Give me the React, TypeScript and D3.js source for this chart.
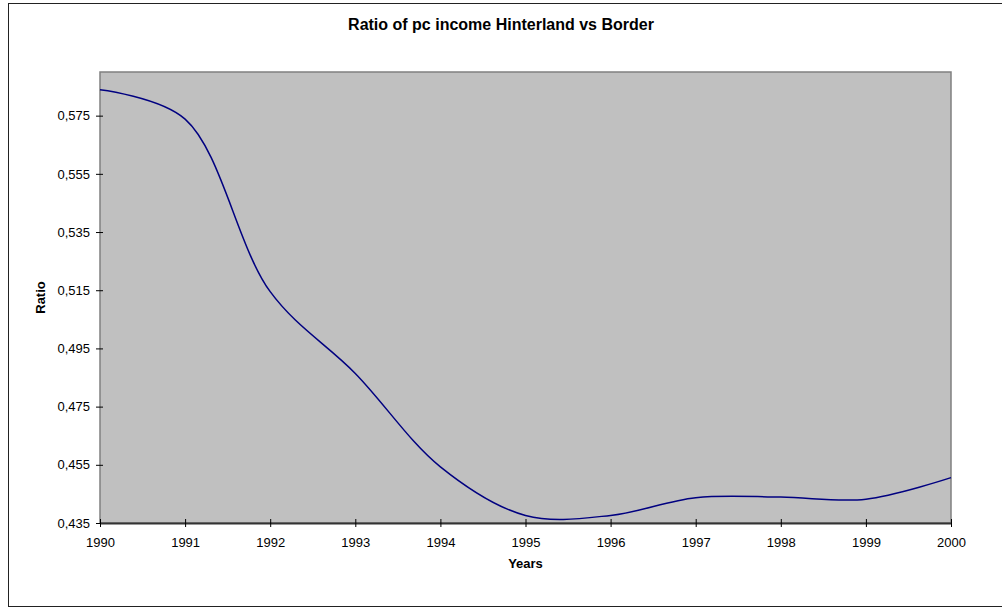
import React, { useRef, useEffect } from 'react';
import * as d3 from 'd3';

const years = [1990, 1991, 1992, 1993, 1994, 1995, 1996, 1997, 1998, 1999, 2000];
const ratio = [0.5839, 0.5738, 0.5145, 0.4864, 0.4543, 0.4376, 0.4376, 0.4437, 0.4439, 0.4432, 0.4506];
const yTicks = [0.435, 0.455, 0.475, 0.495, 0.515, 0.535, 0.555, 0.575];

const W = 1002;
const H = 608;
const margin = { top: 72, right: 51, bottom: 85, left: 100 };

function App() {
  const svgRef = useRef<SVGSVGElement>(null);

  useEffect(() => {
    const svgEl = d3.select(svgRef.current);
    svgEl.selectAll('*').remove();

    const width = W - margin.left - margin.right;
    const height = H - margin.top - margin.bottom;
    const font = 'Arial, "Liberation Sans", sans-serif';

    // chart frame
    svgEl.append('rect')
      .attr('x', 8.5).attr('y', 3.5)
      .attr('width', 1010).attr('height', 603)
      .attr('fill', '#fff').attr('stroke', '#222');

    const xScale = d3.scaleLinear().domain([1990, 2000]).range([0, width]);
    const yScale = d3.scaleLinear().domain([0.435, 0.59]).range([height, 0]);

    const svg = svgEl.append('g').attr('transform', `translate(${margin.left},${margin.top})`);

    svg.append('rect')
      .attr('x', 0).attr('y', 0)
      .attr('width', width).attr('height', height)
      .attr('fill', '#c0c0c0').attr('stroke', '#808080').attr('stroke-width', 1.5);

    // y axis
    const yAxis = d3.axisLeft(yScale)
      .tickValues(yTicks)
      .tickSize(0)
      .tickPadding(10)
      .tickFormat((d) => d3.format('.3f')(d as number).replace('.', ','));
    const yg = svg.append('g').call(yAxis);
    yg.select('.domain').remove();
    yg.selectAll('text').attr('font-size', 13).attr('font-family', font).attr('fill', '#000');
    yg.selectAll('.tick').append('line')
      .attr('x1', -4).attr('x2', 3).attr('stroke', '#000');

    // x axis
    const xAxis = d3.axisBottom(xScale)
      .tickValues(years)
      .tickSize(0)
      .tickPadding(15)
      .tickFormat((d) => String(d));
    const xg = svg.append('g').attr('transform', `translate(0,${height})`).call(xAxis);
    xg.select('.domain').attr('stroke', '#333').attr('stroke-width', 2);
    xg.selectAll('text').attr('font-size', 13).attr('font-family', font).attr('fill', '#000');
    xg.selectAll('.tick').append('line')
      .attr('y1', -4).attr('y2', 4).attr('stroke', '#000');

    const line = d3.line<number>()
      .x((_, i) => xScale(years[i]))
      .y((d) => yScale(d))
      .curve(d3.curveCatmullRom.alpha(0.5));

    svg.append('path')
      .datum(ratio)
      .attr('fill', 'none')
      .attr('stroke', '#000080')
      .attr('stroke-width', 1.5)
      .attr('d', line);

    svgEl.append('text')
      .attr('x', 501).attr('y', 30)
      .attr('text-anchor', 'middle')
      .attr('font-family', font).attr('font-weight', 'bold').attr('font-size', 16)
      .text('Ratio of pc income Hinterland vs Border');

    svgEl.append('text')
      .attr('x', margin.left + width / 2).attr('y', 568)
      .attr('text-anchor', 'middle')
      .attr('font-family', font).attr('font-weight', 'bold').attr('font-size', 13)
      .text('Years');

    svgEl.append('text')
      .attr('transform', `translate(45,${margin.top + height / 2}) rotate(-90)`)
      .attr('text-anchor', 'middle')
      .attr('font-family', font).attr('font-weight', 'bold').attr('font-size', 13)
      .text('Ratio');
  }, []);

  return (
    <svg
      ref={svgRef}
      width={W}
      height={H}
      style={{ position: 'absolute', left: 0, top: 0, background: '#fff' }}
    />
  );
}

export default App;
